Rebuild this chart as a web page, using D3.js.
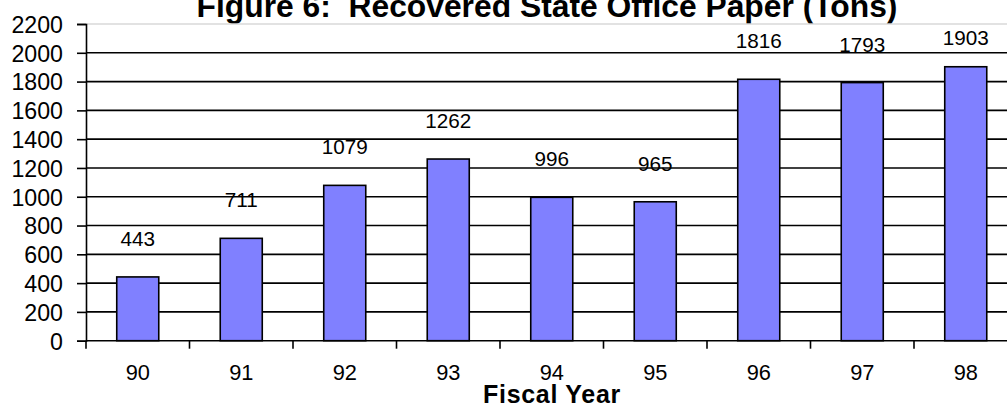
<!DOCTYPE html>
<html>
<head>
<meta charset="utf-8">
<script src="https://cdn.jsdelivr.net/npm/d3@7"></script>
<style>
  html, body { margin: 0; padding: 0; background: #fff; }
  svg { display: block; font-family: Arial, "Liberation Sans", sans-serif; }
  .title { white-space: pre; }
</style>
</head>
<body>
<svg id="chart" width="1007" height="412"></svg>
<script>
// Recovered state office paper, tons per fiscal year
const fiscalYears = ["90", "91", "92", "93", "94", "95", "96", "97", "98"];
const tons = [443, 711, 1079, 1262, 996, 965, 1816, 1793, 1903];
const yTicks = [0, 200, 400, 600, 800, 1000, 1200, 1400, 1600, 1800, 2000, 2200];

const titleText = "Figure 6:  Recovered State Office Paper (Tons)";
const xTitle = "Fiscal Year";

const svg = d3.select("#chart");
const plotLeft = 86, plotTop = 24, plotBottom = 340.7, step = 103.5;
const plotRight = plotLeft + step * fiscalYears.length;

const x = d3.scaleBand()
  .domain(fiscalYears)
  .range([plotLeft, plotRight])
  .paddingInner(0.594)
  .paddingOuter(0.297);

const y = d3.scaleLinear().domain([0, 2200]).range([plotBottom, plotTop]);

// Title (runs off the top edge)
svg.append("text")
  .attr("class", "title")
  .attr("x", 547).attr("y", 16.5)
  .attr("text-anchor", "middle")
  .attr("font-weight", "bold")
  .attr("font-size", 31.8)
  .text(titleText);

// Gridlines
svg.append("g").selectAll("line")
  .data(yTicks.filter(d => d > 0))
  .join("line")
  .attr("x1", plotLeft).attr("x2", 1007)
  .attr("y1", d => y(d)).attr("y2", d => y(d))
  .attr("stroke", d => d === 2200 ? "#d8d8d8" : "#000")
  .attr("stroke-width", d => d === 2200 ? 1.5 : 1.6);

// Bars
svg.append("g").selectAll("rect")
  .data(tons)
  .join("rect")
  .attr("x", (d, i) => x(fiscalYears[i]))
  .attr("width", x.bandwidth())
  .attr("y", d => y(d))
  .attr("height", d => y(0) - y(d))
  .attr("fill", "#8080ff")
  .attr("stroke", "#000")
  .attr("stroke-width", 1.6);

// Value labels above bars
svg.append("g").selectAll("text")
  .data(tons)
  .join("text")
  .attr("x", (d, i) => x(fiscalYears[i]) + x.bandwidth() / 2)
  .attr("y", d => Math.max(y(d) - 31, 45))
  .attr("text-anchor", "middle")
  .attr("font-size", 20.7)
  .attr("fill", "#000")
  .text(d => d);

// Y axis
const yAxis = d3.axisLeft(y).tickValues(yTicks).tickFormat(d3.format("d"))
  .tickSize(9).tickPadding(14);
const gy = svg.append("g").attr("transform", `translate(${plotLeft},0)`).call(yAxis);
gy.select(".domain").attr("stroke", "#000").attr("stroke-width", 1.6);
gy.selectAll(".tick line").attr("stroke", "#000").attr("stroke-width", 1.6);
gy.selectAll(".tick text")
  .attr("font-size", 23.2)
  .attr("font-family", "Arial, 'Liberation Sans', sans-serif")
  .attr("fill", "#000")
  .attr("dy", "0.36em");

// X axis line with ticks at category boundaries
const boundaries = d3.range(fiscalYears.length + 1).map(i => plotLeft + i * x.step());
const gx = svg.append("g");
gx.append("line")
  .attr("x1", plotLeft).attr("x2", 1007)
  .attr("y1", plotBottom).attr("y2", plotBottom)
  .attr("stroke", "#000").attr("stroke-width", 1.6);
gx.selectAll("line.tk")
  .data(boundaries)
  .join("line")
  .attr("class", "tk")
  .attr("x1", d => d).attr("x2", d => d)
  .attr("y1", plotBottom).attr("y2", plotBottom + 8)
  .attr("stroke", "#000").attr("stroke-width", 1.6);

// Category labels
svg.append("g").selectAll("text")
  .data(fiscalYears)
  .join("text")
  .attr("x", d => x(d) + x.bandwidth() / 2)
  .attr("y", 380)
  .attr("text-anchor", "middle")
  .attr("font-size", 21.8)
  .attr("fill", "#000")
  .text(d => d);

// Axis title
svg.append("text")
  .attr("x", 552).attr("y", 403)
  .attr("text-anchor", "middle")
  .attr("font-weight", "bold")
  .attr("font-size", 25)
  .attr("letter-spacing", 0.7)
  .text(xTitle);
</script>
</body>
</html>
